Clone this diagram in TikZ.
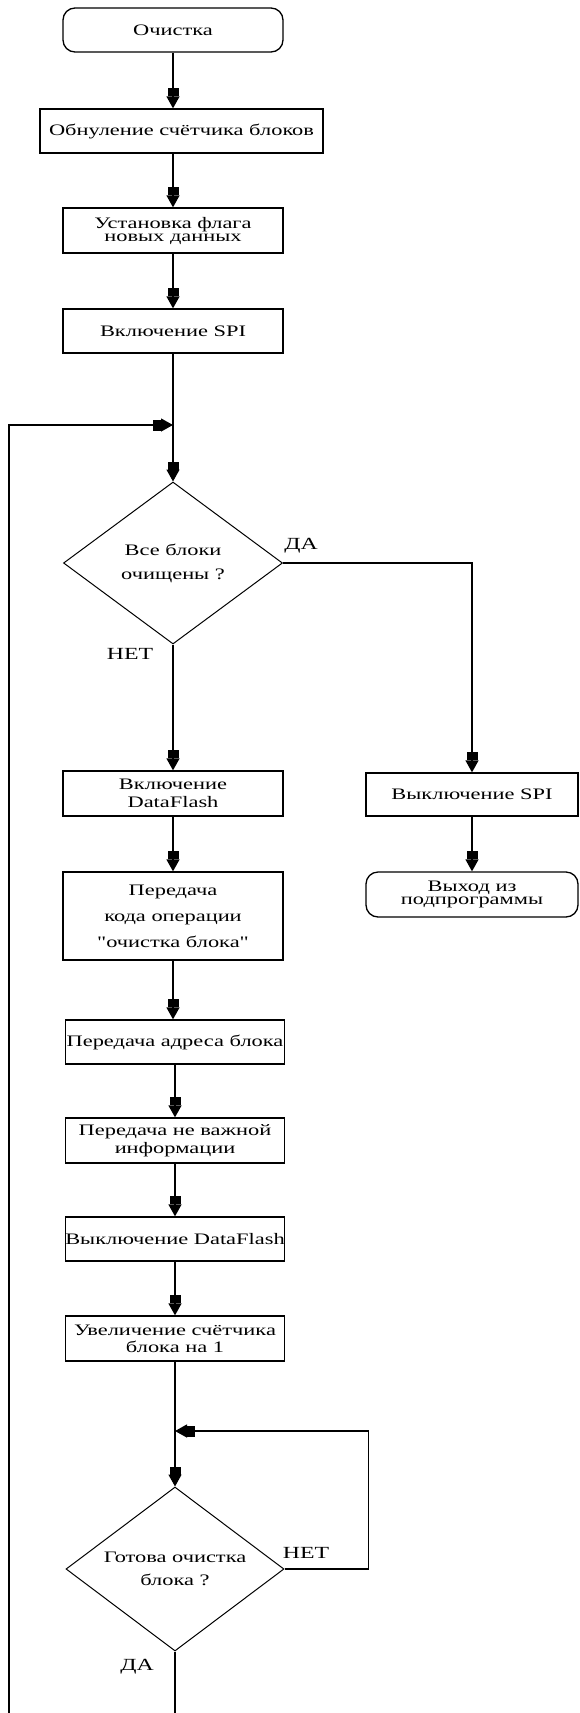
\documentclass[tikz,border=0pt]{standalone}
\usepackage{fontspec}
\setmainfont{Liberation Serif}[FakeStretch=1.4, Ligatures=TeXOff]
\usetikzlibrary{shapes.geometric,arrows.meta}
\begin{document}
\begin{tikzpicture}[x=1pt,y=-1pt,
  line width=1.3pt,
  every node/.style={inner sep=0pt, align=center},
  lh/.style={font=\fontsize{16pt}{#1}\selectfont},
  lh/.default=18pt,
  box/.style={draw, rectangle, minimum height=44pt, minimum width=220pt, lh},
  term/.style={draw, rectangle, rounded corners=12pt, minimum height=44pt, minimum width=220pt, lh},
  dec/.style={draw, diamond, aspect=1.35, line width=1pt, minimum width=219pt, minimum height=162pt, lh},
  lbl/.style={font=\fontsize{17pt}{20pt}\selectfont},
  flow/.style={-{Rectangle[length=8pt,width=11pt]Triangle[length=12pt,width=13pt]}},
]
\useasboundingbox (0,0) rectangle (579,1713);

% main column
\node[term] (start) at (173,30) {Очистка};
\node[box, minimum width=283pt] (zero) at (181.5,131) {Обнуление счётчика блоков};
\node[box, minimum height=45pt, lh=13pt] (flag) at (173,230.5) {Установка флага\\новых данных};
\node[box] (spion) at (173,331) {Включение SPI};
\coordinate (join1) at (173,425);
\node[dec, lh=24pt] (dec1) at (173,563) {Все блоки\\очищены ?};
\node[box, minimum height=45pt, lh=18pt] (dfon) at (173,793.5) {Включение\\DataFlash};
\node[box, minimum height=88pt, lh=26pt] (opcode) at (173,916) {Передача\\кода операции\\"очистка блока"};
\node[box, minimum width=219pt] (addr) at (175,1042) {Передача адреса блока};
\node[box, minimum width=219pt, minimum height=45pt, lh=18pt] (dummy) at (175,1140.5) {Передача не важной\\информации};
\node[box, minimum width=219pt] (dfoff) at (175,1239) {Выключение DataFlash};
\node[box, minimum width=219pt, minimum height=45pt, lh=17pt] (inc) at (175,1338.5) {Увеличение счётчика\\блока на 1};
\coordinate (join2) at (175,1431);
\node[dec, minimum width=218pt, minimum height=164pt, lh=23pt] (dec2) at (175,1569) {Готова очистка\\блока ?};

% exit branch
\node[box, minimum width=212pt, minimum height=43pt] (spioff) at (472,794.5) {Выключение SPI};
\node[term, minimum width=212pt, minimum height=45pt, lh=13pt] (exit) at (472,894.5) {Выход из\\подпрограммы};

% branch labels
\node[lbl] (yes1) at (301,546) {ДА};
\node[lbl] (no1) at (130,654) {НЕТ};
\node[lbl] (no2) at (306,1553) {НЕТ};
\node[lbl] (yes2) at (137,1667) {ДА};

% loose ends at the lower edge
\coordinate (endC) at (175,1713);
\coordinate (endL) at (9,1713);

% connectors
\draw[flow] (start.south) -- (start.south |- zero.north);
\draw[flow] (start.south |- zero.south) -- (flag.north);
\draw[flow] (flag.south) -- (spion.north);
\draw[flow] (spion.south) -- (dec1.north);
\draw[flow] (dec1.south) -- (dfon.north);
\draw[flow] (dfon.south) -- (opcode.north);
\draw[flow] (opcode.south) -- (opcode.south |- addr.north);
\draw[flow] (addr.south) -- (dummy.north);
\draw[flow] (dummy.south) -- (dfoff.north);
\draw[flow] (dfoff.south) -- (inc.north);
\draw[flow] (inc.south) -- (dec2.north);
\draw (dec2.south) -- (endC);
\draw[flow] (endL) |- (join1);
\draw[flow] (dec1.east) -| (spioff.north);
\draw[flow] (spioff.south) -- (exit.north);
\draw[flow] (dec2.east) -- ++(84,0) |- (join2);
\end{tikzpicture}
\end{document}
